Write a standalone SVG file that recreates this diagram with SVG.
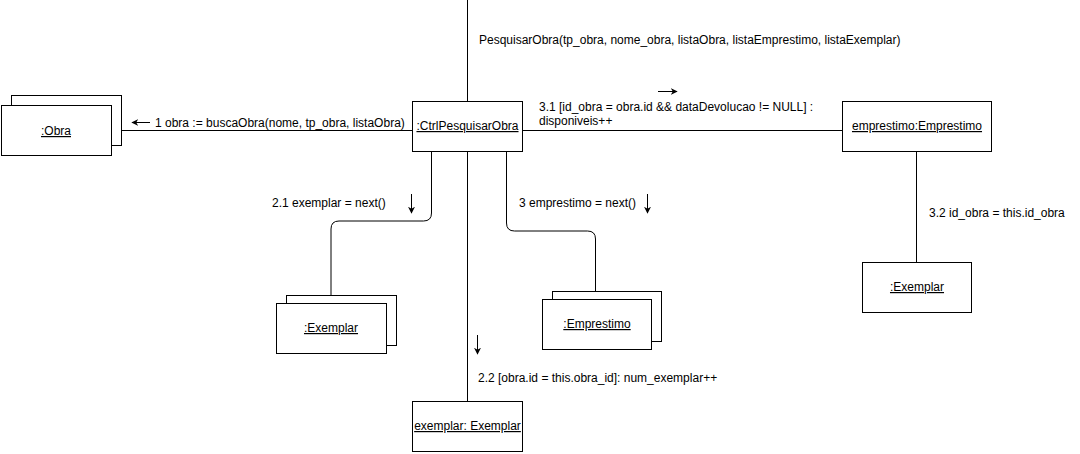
<svg xmlns="http://www.w3.org/2000/svg" width="1080" height="454" viewBox="0 0 1080 454">
<defs>
<style>
.box{fill:#fff;stroke:#000;stroke-width:1}
.ln{fill:none;stroke:#000;stroke-width:1}
.t{font-family:"Liberation Sans",Arial,sans-serif;font-size:12px;fill:#000}
.u{text-decoration:underline;text-anchor:middle}
</style>
<marker id="ah" viewBox="0 0 10 10" refX="9" refY="5" markerWidth="7" markerHeight="7" markerUnits="userSpaceOnUse" orient="auto">
<path d="M0,0 L10,5 L0,10 L3,5 Z" fill="#000"/>
</marker>
</defs>
<rect width="1080" height="454" fill="#fff"/>
<g id="connectors">
<path class="ln" d="M467.5,0 V101"/>
<path class="ln" d="M121,130.5 H412"/>
<path class="ln" d="M522,130.5 H842"/>
<path class="ln" d="M431.5,151 V213 Q431.5,221 423.5,221 H339 Q331,221 331,229 V295"/>
<path class="ln" d="M506.5,151 V223 Q506.5,231 514.5,231 H587.5 Q595.5,231 595.5,239 V291"/>
<path class="ln" d="M467.5,151 V401"/>
<path class="ln" d="M916.5,151 V262"/>
<path class="ln" d="M150,122.5 H132" marker-end="url(#ah)"/>
<path class="ln" d="M658,91.5 H677" marker-end="url(#ah)"/>
<path class="ln" d="M411.5,194 V213" marker-end="url(#ah)"/>
<path class="ln" d="M647.5,194 V213" marker-end="url(#ah)"/>
<path class="ln" d="M477.5,335 V354" marker-end="url(#ah)"/>
</g>
<g id="labels">
<text class="t" x="479" y="44">PesquisarObra(tp_obra, nome_obra, listaObra, listaEmprestimo, listaExemplar)</text>
<text class="t" x="155" y="127">1 obra := buscaObra(nome, tp_obra, listaObra)</text>
<text class="t" x="539" y="111">3.1 [id_obra = obra.id &amp;&amp; dataDevolucao != NULL] :</text>
<text class="t" x="539" y="125">disponiveis++</text>
<text class="t" x="272" y="207">2.1 exemplar = next()</text>
<text class="t" x="519" y="207">3 emprestimo = next()</text>
<text class="t" x="929" y="217">3.2 id_obra = this.id_obra</text>
<text class="t" x="478" y="382">2.2 [obra.id = this.obra_id]: num_exemplar++</text>
</g>
<g id="obra">
<rect class="box" x="11.5" y="95.5" width="110" height="50"/>
<rect class="box" x="1.5" y="105.5" width="110" height="50"/>
<text class="t u" x="56" y="135">:Obra</text>
</g>
<g id="ctrl">
<rect class="box" x="412.5" y="101.5" width="110" height="50"/>
<text class="t u" x="467.5" y="130">:CtrlPesquisarObra</text>
</g>
<g id="emprestimoObj">
<rect class="box" x="842.5" y="101.5" width="149" height="50"/>
<text class="t u" x="917" y="130">emprestimo:Emprestimo</text>
</g>
<g id="exemplarMulti">
<rect class="box" x="286.5" y="295.5" width="110" height="50"/>
<rect class="box" x="276.5" y="303.5" width="110" height="50"/>
<text class="t u" x="331" y="332">:Exemplar</text>
</g>
<g id="emprestimoMulti">
<rect class="box" x="552.5" y="291.5" width="109" height="50"/>
<rect class="box" x="542.5" y="299.5" width="109" height="50"/>
<text class="t u" x="597" y="328">:Emprestimo</text>
</g>
<g id="exemplarRight">
<rect class="box" x="862.5" y="262.5" width="109" height="50"/>
<text class="t u" x="917" y="291">:Exemplar</text>
</g>
<g id="exemplarObj">
<rect class="box" x="412.5" y="401.5" width="110" height="50"/>
<text class="t u" x="467.5" y="430">exemplar: Exemplar</text>
</g>
</svg>
